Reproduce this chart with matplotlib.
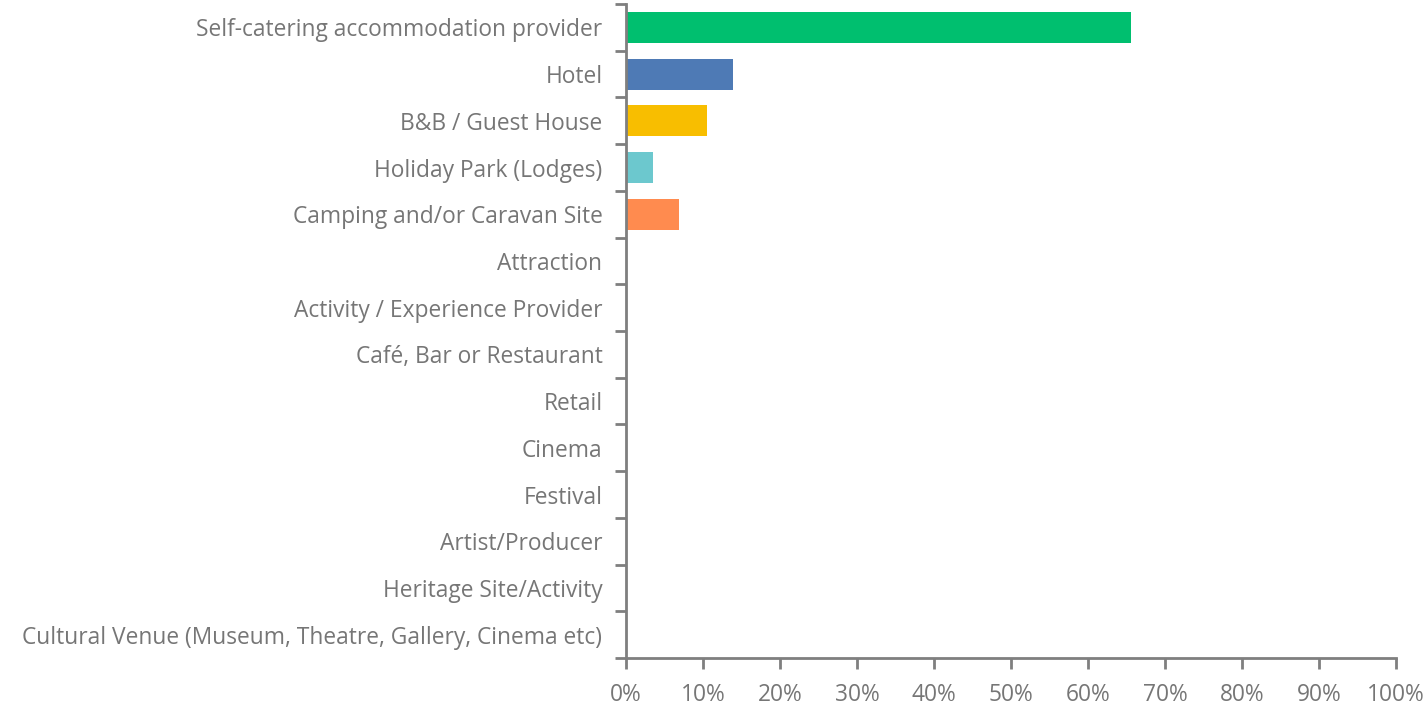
import matplotlib.pyplot as plt
import numpy as np
from matplotlib.ticker import FixedLocator, PercentFormatter

categories = [
    "Self-catering accommodation provider",
    "Hotel",
    "B&B / Guest House",
    "Holiday Park (Lodges)",
    "Camping and/or Caravan Site",
    "Attraction",
    "Activity / Experience Provider",
    "Café, Bar or Restaurant",
    "Retail",
    "Cinema",
    "Festival",
    "Artist/Producer",
    "Heritage Site/Activity",
    "Cultural Venue (Museum, Theatre, Gallery, Cinema etc)",
]
values = [65.6, 13.9, 10.5, 3.5, 6.9, 0, 0, 0, 0, 0, 0, 0, 0, 0]
colors = ["#00BF6F", "#4E7AB5", "#F8BE00", "#6CC8CE", "#FF8B4F"] + ["#4E7AB5"] * 9

plt.rcParams["font.family"] = ["Open Sans", "DejaVu Sans"]
grey = "#7F7F7F"
text_grey = "#767676"

fig = plt.figure(figsize=(14.27, 7.07), dpi=100)
ax = fig.add_axes([0.4387, 0.0693, 0.5396, 0.925])

y = np.arange(len(categories))
ax.barh(y, values, height=0.66, color=colors)
ax.set_ylim(len(categories) - 0.5, -0.5)
ax.set_xlim(0, 100)

ax.set_yticks(y)
ax.set_yticklabels(categories, fontsize=16.4, color=text_grey)
ax.yaxis.set_minor_locator(FixedLocator(np.arange(-0.5, len(categories), 1)))
ax.tick_params(axis="y", which="major", length=0, pad=17)
ax.tick_params(axis="y", which="minor", length=8, width=2, color=grey)

ax.set_xticks(np.arange(0, 101, 10))
ax.xaxis.set_major_formatter(PercentFormatter(decimals=0))
ax.tick_params(axis="x", length=8, width=2, color=grey, labelsize=16.4,
               labelcolor=text_grey, pad=10)

for side in ["top", "right"]:
    ax.spines[side].set_visible(False)
for side in ["left", "bottom"]:
    ax.spines[side].set_color(grey)
    ax.spines[side].set_linewidth(2)

fig.savefig("out.png", dpi=100)
